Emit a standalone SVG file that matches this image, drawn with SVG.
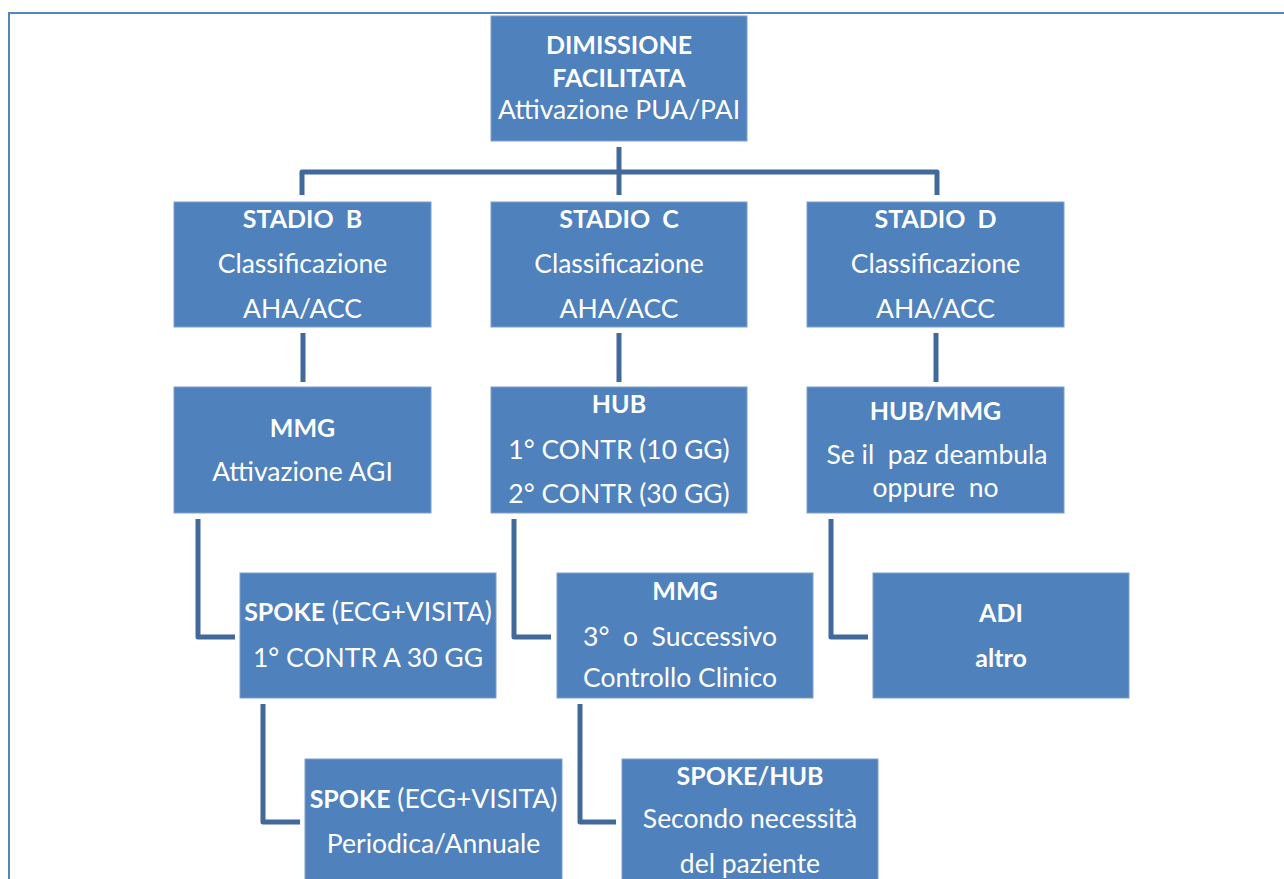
<svg xmlns="http://www.w3.org/2000/svg" width="1284" height="879" viewBox="0 0 1284 879">
<style>
.box{fill:#4F81BD;stroke:#7FA0CC;stroke-width:1}
.t{font-family:Lato,"Open Sans","Liberation Sans",sans-serif;font-size:26.500px;fill:#FFFFFF;text-anchor:middle}
.b{font-weight:bold;font-size:25px}
.c{fill:none;stroke:#41699C;stroke-width:5;stroke-linejoin:round;stroke-linecap:butt}
</style>
<rect x="9" y="13" width="1290" height="900" fill="none" stroke="#5585C0" stroke-width="2"/>
<g id="connectors">
<path class="c" d="M619,147 V195"/>
<path class="c" d="M302,195 V172 H937 V195"/>
<path class="c" d="M303,333 V382"/>
<path class="c" d="M619,333 V382"/>
<path class="c" d="M936,333 V382"/>
<path class="c" d="M198,519 V637 H235"/>
<path class="c" d="M514,519 V637 H551"/>
<path class="c" d="M831,519 V637 H868"/>
<path class="c" d="M263,704 V822 H300"/>
<path class="c" d="M580,704 V822 H616"/>
</g>
<g id="n-dimissione">
<rect class="box" x="491" y="16" width="256" height="125"/>
<text class="t b" x="619" y="54">DIMISSIONE</text>
<text class="t b" x="619" y="87">FACILITATA</text>
<text class="t" x="619" y="119">Attivazione PUA/PAI</text>
</g>
<g id="n-stadio-b">
<rect class="box" x="174" y="202" width="257" height="125"/>
<text class="t b" x="302.500" y="228" xml:space="preserve">STADIO  B</text>
<text class="t" x="302.500" y="273">Classificazione</text>
<text class="t" x="302.500" y="318">AHA/ACC</text>
</g>
<g id="n-stadio-c">
<rect class="box" x="491" y="202" width="256" height="125"/>
<text class="t b" x="619" y="228" xml:space="preserve">STADIO  C</text>
<text class="t" x="619" y="273">Classificazione</text>
<text class="t" x="619" y="318">AHA/ACC</text>
</g>
<g id="n-stadio-d">
<rect class="box" x="807" y="202" width="257" height="125"/>
<text class="t b" x="935.500" y="228" xml:space="preserve">STADIO  D</text>
<text class="t" x="935.500" y="273">Classificazione</text>
<text class="t" x="935.500" y="318">AHA/ACC</text>
</g>
<g id="n-mmg-b">
<rect class="box" x="174" y="387" width="257" height="126"/>
<text class="t b" x="302.500" y="437">MMG</text>
<text class="t" x="302.500" y="481">Attivazione AGI</text>
</g>
<g id="n-hub">
<rect class="box" x="491" y="387" width="256" height="126"/>
<text class="t b" x="619" y="413">HUB</text>
<text class="t" x="619" y="459">1° CONTR (10 GG)</text>
<text class="t" x="619" y="503">2° CONTR (30 GG)</text>
</g>
<g id="n-hub-mmg">
<rect class="box" x="807" y="387" width="257" height="126"/>
<text class="t b" x="935.500" y="420">HUB/MMG</text>
<text class="t" x="937" y="464" xml:space="preserve">Se il  paz deambula</text>
<text class="t" x="935.500" y="497" xml:space="preserve">oppure  no</text>
</g>
<g id="n-spoke-1">
<rect class="box" x="240" y="573" width="256" height="125"/>
<text class="t" x="368" y="621"><tspan class="b">SPOKE</tspan> (ECG+VISITA)</text>
<text class="t" x="368" y="667">1° CONTR A 30 GG</text>
</g>
<g id="n-mmg-c">
<rect class="box" x="557" y="573" width="256" height="125"/>
<text class="t b" x="685" y="600">MMG</text>
<text class="t" x="680" y="646" xml:space="preserve">3°  o  Successivo</text>
<text class="t" x="680" y="687">Controllo Clinico</text>
</g>
<g id="n-adi">
<rect class="box" x="873" y="573" width="256" height="125"/>
<text class="t b" x="1001" y="622">ADI</text>
<text class="t b" x="1001" y="667">altro</text>
</g>
<g id="n-spoke-2">
<rect class="box" x="305" y="759" width="257" height="130"/>
<text class="t" x="433.500" y="808"><tspan class="b">SPOKE</tspan> (ECG+VISITA)</text>
<text class="t" x="433.500" y="853">Periodica/Annuale</text>
</g>
<g id="n-spoke-hub">
<rect class="box" x="622" y="759" width="256" height="130"/>
<text class="t b" x="750" y="785">SPOKE/HUB</text>
<text class="t" x="750" y="828">Secondo necessità</text>
<text class="t" x="750" y="873">del paziente</text>
</g>
</svg>
